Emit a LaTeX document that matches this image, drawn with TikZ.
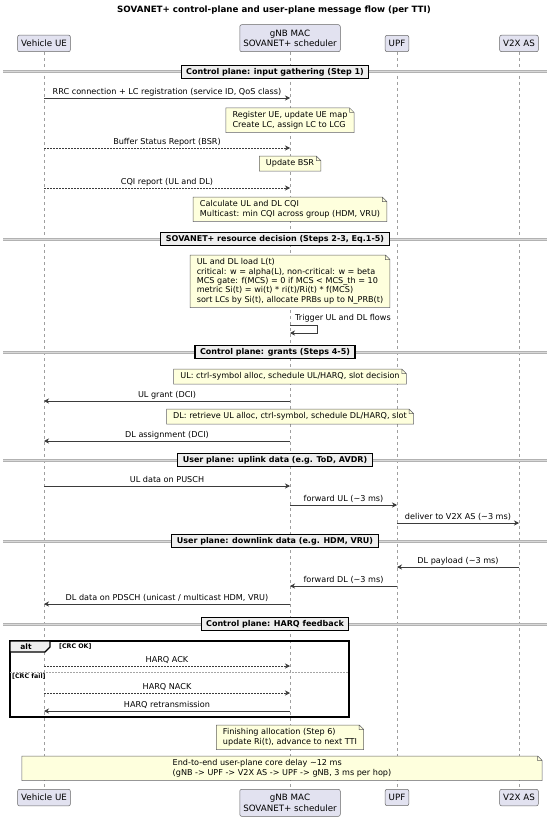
\documentclass[tikz,border=0pt]{standalone}
\usepackage{fontspec}
\setmainfont{DejaVu Sans}
\usetikzlibrary{arrows.meta}

\definecolor{partfill}{HTML}{E2E2F0}
\definecolor{notefill}{HTML}{FEFFDD}
\definecolor{linegray}{HTML}{181818}
\definecolor{divfill}{HTML}{EEEEEE}
\newcommand{\msgfont}{\fontsize{8.1}{9.3}\selectfont}
\newcommand{\partfont}{\fontsize{8.7}{10.5}\selectfont}

\begin{document}
\begin{tikzpicture}[x=1pt,y=-1pt]
\tikzset{participant/.style = {draw=gray!80!black, line width=0.5pt, fill=partfill, rounded corners=2pt, font=\partfont, align=center, inner xsep=3.5pt, inner ysep=5pt}}
\tikzset{lifeline/.style = {draw=gray!75, line width=0.5pt, dash pattern=on 3pt off 3pt}}
\tikzset{msg/.style = {draw=linegray!85, line width=0.6pt, -{Stealth[length=5pt,width=5pt,inset=1.6pt]}}}
\tikzset{reply/.style = {msg, dash pattern=on 1.5pt off 1.5pt}}
\tikzset{msglabel/.style = {font=\msgfont, inner sep=1pt, text depth=1.9pt, anchor=south}}
\tikzset{divline/.style = {draw=gray!60, line width=1pt, double=gray!30, double distance=1pt}}
\tikzset{divider/.style = {draw=black, line width=1.1pt, fill=divfill, font=\fontsize{8}{9}\selectfont\bfseries, inner xsep=5pt, inner ysep=2.5pt}}
\tikzset{notedraw/.style = {draw=gray!75!black, line width=0.5pt}}
\tikzset{notebox/.style = {fill=notefill, align=left, font=\msgfont, inner xsep=6.5pt, inner ysep=3.5pt, anchor=north}}
\tikzset{frame/.style = {draw=black, line width=1.1pt}}
\tikzset{guard/.style = {font=\fontsize{6.3}{7}\selectfont\bfseries, inner sep=1pt}}

\useasboundingbox (0,0) rectangle (550,824);

\node[font=\fontsize{8.7}{10}\selectfont\bfseries] (title) at (274,10) {SOVANET+ control-plane and user-plane message flow (per TTI)};

% participants, top and bottom
\foreach \name/\x/\txt in {ue/44/{Vehicle UE}, gnb/290/{gNB MAC\\SOVANET+ scheduler}, upf/397/UPF, v2x/519/{V2X AS}}{
  \node[participant, anchor=south] (\name) at (\x,52) {\txt};
  \node[participant, anchor=north] (\name F) at (\x,789) {\txt};
  \draw[lifeline] (\name) -- (\name F);
}

% dividers
\foreach \y/\name/\txt in {72/dIn/{Control plane: input gathering (Step 1)}, 239/dDec/{SOVANET+ resource decision (Steps 2-3, Eq.1-5)},
  352/dGrant/{Control plane: grants (Steps 4-5)}, 460/dUl/{User plane: uplink data (e.g. ToD, AVDR)},
  541/dDl/{User plane: downlink data (e.g. HDM, VRU)}, 624/dHarq/{Control plane: HARQ feedback}}{
  \draw[divline] (3,\y) -- (547,\y);
  \node[divider] (\name) at (275,\y) {\txt};
}

% messages
\foreach \y/\from/\to/\kind/\txt in {
  98/ue/gnb/msg/{RRC connection + LC registration (service ID, QoS class)},
  148/ue/gnb/reply/{Buffer Status Report (BSR)},
  188/ue/gnb/reply/{CQI report (UL and DL)},
  401/gnb/ue/msg/{UL grant (DCI)},
  441/gnb/ue/msg/{DL assignment (DCI)},
  486/ue/gnb/msg/{UL data on PUSCH},
  505/gnb/upf/msg/{forward UL ({\textasciitilde}3 ms)},
  523/upf/v2x/msg/{deliver to V2X AS ({\textasciitilde}3 ms)},
  567/v2x/upf/msg/{DL payload ({\textasciitilde}3 ms)},
  586/upf/gnb/msg/{forward DL ({\textasciitilde}3 ms)},
  604/gnb/ue/msg/{DL data on PDSCH (unicast / multicast HDM, VRU)},
  666/ue/gnb/reply/{HARQ ACK},
  693/ue/gnb/reply/{HARQ NACK},
  711/gnb/ue/msg/{HARQ retransmission}}
  \draw[\kind] (\from |- 0,\y) -- (\to |- 0,\y) node[msglabel, midway] {\txt};

% self message
\draw[msg] (gnb |- 0,325) -- ++(27,0) -- ++(0,8) -- (gnb |- 0,333);
\node[font=\msgfont, anchor=west, inner sep=1pt] (trig) at (294,318) {Trigger UL and DL flows};

% notes over the scheduler
\node[notebox] (nReg) at (290,108) {Register UE, update UE map\\Create LC, assign LC to LCG};
\node[notebox] (nBsr) at (290,156) {Update BSR};
\node[notebox] (nCqi) at (290,197) {Calculate UL and DL CQI\\Multicast: min CQI across group (HDM, VRU)};
\node[notebox] (nMetric) at (290,255) {UL and DL load L(t)\\critical: w = alpha(L), non-critical: w = beta\\MCS gate: f(MCS) = 0 if MCS < MCS\_th = 10\\metric Si(t) = wi(t) * ri(t)/Ri(t) * f(MCS)\\sort LCs by Si(t), allocate PRBs up to N\_PRB(t)};
\node[notebox] (nUl) at (290,369) {UL: ctrl-symbol alloc, schedule UL/HARQ, slot decision};
\node[notebox] (nDl) at (290,409) {DL: retrieve UL alloc, ctrl-symbol, schedule DL/HARQ, slot};
\node[notebox] (nFin) at (290,725) {Finishing allocation (Step 6)\\update Ri(t), advance to next TTI};
\node[notebox, minimum width=520pt] (nDelay) at (282,756) {End-to-end user-plane core delay {\textasciitilde}12 ms\\(gNB -> UPF -> V2X AS -> UPF -> gNB, 3 ms per hop)};

% folded corner outline of every note
\foreach \n in {nReg, nBsr, nCqi, nMetric, nUl, nDl, nFin, nDelay}{
  \fill[white] ([xshift=-4.5pt]\n.north east) -- (\n.north east) -- ([yshift=-4.5pt]\n.north east) -- cycle;
  \draw[notedraw] (\n.north west) -- ([xshift=-4.5pt]\n.north east) -- ([yshift=-4.5pt]\n.north east)
    -- (\n.south east) -- (\n.south west) -- cycle
    ([xshift=-4.5pt]\n.north east) |- ([yshift=-4.5pt]\n.north east);
}

% alt fragment
\draw[frame] (10,641) rectangle (349,717);
\draw[frame, fill=divfill] (10,641) -- (50,641) -- (50,647) -- (45,652) -- (10,652) -- cycle;
\node[font=\fontsize{7.5}{8}\selectfont\bfseries, inner sep=0pt] (alt) at (26,646.5) {alt};
\node[guard, anchor=west] (gOk) at (58,646.5) {[CRC OK]};
\draw[draw=gray!70, line width=0.6pt, dash pattern=on 1.5pt off 1.5pt] (10,672) -- (349,672);
\node[guard, anchor=west] (gFail) at (11,677) {[CRC fail]};
\end{tikzpicture}
\end{document}
